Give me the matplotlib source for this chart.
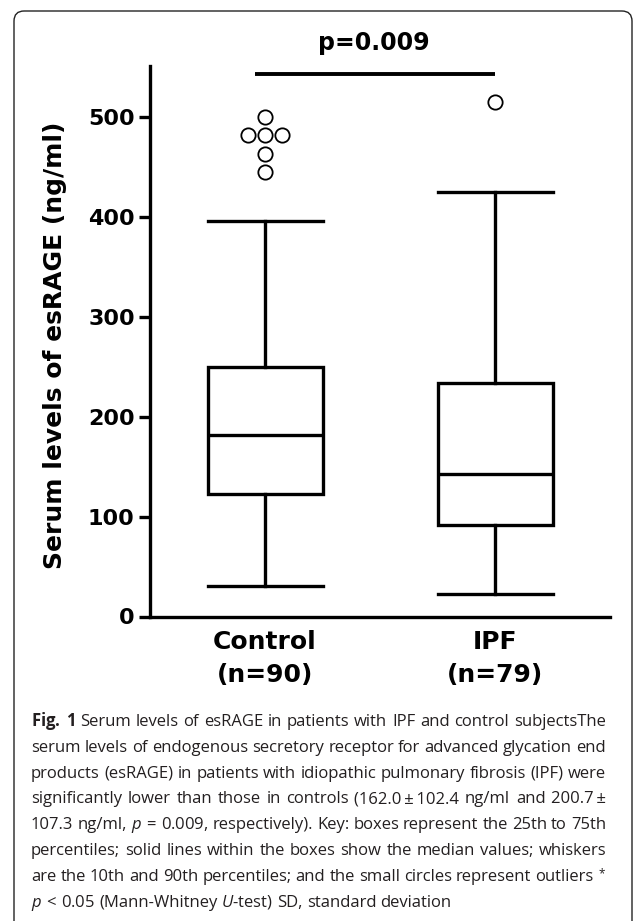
import numpy as np
import matplotlib
matplotlib.use("Agg")
import matplotlib.pyplot as plt
from matplotlib.patches import FancyBboxPatch

# box statistics (ng/ml)
groups = ["Control", "IPF"]
group_n = [90, 79]
q1 = [123, 92]
median = [182, 143]
q3 = [250, 234]
whisker_lo = [31, 23]
whisker_hi = [396, 425]

# outliers, with their horizontal jitter slot (in marker widths)
ctrl_outliers = [500, 482, 482, 482, 463, 445]
ctrl_slots = [0, -1, 0, 1, 0, 0]
ipf_outliers = [515]
ipf_slots = [0]

p_text = "p=0.009"
sig_bar_y = 543

caption_lines = [
    r"$\mathbf{Fig.\;1}$ Serum levels of esRAGE in patients with IPF and control subjectsThe",
    "serum levels of endogenous secretory receptor for advanced glycation end",
    "products (esRAGE) in patients with idiopathic pulmonary fibrosis (IPF) were",
    "significantly lower than those in controls (162.0\u2009±\u2009102.4 ng/ml and 200.7\u2009±",
    r"107.3 ng/ml, $\mathit{p}\,=\,$0.009, respectively). Key: boxes represent the 25th to 75th",
    "percentiles; solid lines within the boxes show the median values; whiskers",
    r"are the 10th and 90th percentiles; and the small circles represent outliers $^{*}$",
    r"$\mathit{p}\,<\,$0.05 (Mann-Whitney $\mathit{U}$-test) SD, standard deviation",
]

W, H = 633, 921
plt.rcParams["font.family"] = ["DejaVu Sans"]
plt.rcParams["mathtext.fontset"] = "custom"
plt.rcParams["mathtext.rm"] = "Open Sans"
plt.rcParams["mathtext.it"] = "Open Sans:italic"
plt.rcParams["mathtext.bf"] = "Open Sans:bold"

fig = plt.figure(figsize=(W / 100, H / 100), dpi=100)

# rounded frame around the whole panel
frame = FancyBboxPatch((14 / W, 1 - 960 / H), (632 - 14) / W, (960 - 11) / H,
                       boxstyle="round,pad=0,rounding_size=0.016",
                       transform=fig.transFigure, fill=False,
                       edgecolor="#222222", linewidth=1.0, mutation_aspect=W / H)
fig.patches.append(frame)

ax = fig.add_axes([150 / W, 1 - 616.5 / H, 460 / W, (616.5 - 65.7) / H])

pos = np.arange(1, len(groups) + 1)
stats = []
for i in range(len(groups)):
    stats.append(dict(med=median[i], q1=q1[i], q3=q3[i],
                      whislo=whisker_lo[i], whishi=whisker_hi[i], fliers=[]))

lw = 2.4
ax.bxp(stats, positions=pos, widths=0.5, capwidths=0.5, showfliers=False,
       patch_artist=True,
       boxprops=dict(facecolor="white", edgecolor="black", linewidth=lw),
       medianprops=dict(color="black", linewidth=lw),
       whiskerprops=dict(color="black", linewidth=lw),
       capprops=dict(color="black", linewidth=lw))

slot_w = 0.072
ax.plot(pos[0] + np.array(ctrl_slots) * slot_w, ctrl_outliers, "o", ms=10.3,
        mfc="white", mec="black", mew=1.3, clip_on=False, zorder=5)
ax.plot(pos[1] + np.array(ipf_slots) * slot_w, ipf_outliers, "o", ms=10.3,
        mfc="white", mec="black", mew=1.3, clip_on=False, zorder=5)

# significance bar
ax.plot([0.955, 2.0], [sig_bar_y, sig_bar_y], color="black", lw=2.8,
        solid_capstyle="butt", clip_on=False)
ax.text(1.474, 567, p_text, ha="center", va="baseline", fontsize=17,
        fontweight="bold")

ax.set_xlim(0.5, 2.5)
ax.set_ylim(0, 551)
ax.set_yticks(range(0, 501, 100))
ax.set_xticks(pos)
ax.set_xticklabels([f"{g}\n(n={n})" for g, n in zip(groups, group_n)],
                   fontsize=18, fontweight="bold", linespacing=1.45)
for lab in ax.get_yticklabels():
    lab.set_fontweight("bold")
ax.tick_params(axis="y", length=8, width=lw, labelsize=16, pad=3)
ax.tick_params(axis="x", length=0, pad=10)
for s in ["top", "right"]:
    ax.spines[s].set_visible(False)
for s in ["left", "bottom"]:
    ax.spines[s].set_linewidth(lw)
ax.set_ylabel("Serum levels of esRAGE (ng/ml)", fontsize=18, fontweight="bold")
ax.yaxis.set_label_coords(-0.181, 0.493)

# justified caption block
cap_left, cap_right = 31, 606
cap_y0, cap_dy = 726, 25.8
cap_style = dict(fontsize=12, family="Open Sans", color="#231f20",
                 va="baseline", ha="left")
renderer = fig.canvas.get_renderer()
for i, line in enumerate(caption_lines):
    y = 1 - (cap_y0 + i * cap_dy) / H
    words = line.split(" ")
    texts = [fig.text(0, y, w, **cap_style) for w in words]
    widths = [t.get_window_extent(renderer).width for t in texts]
    if i < len(caption_lines) - 1 and len(words) > 1:
        gap = (cap_right - cap_left - sum(widths)) / (len(words) - 1)
    else:
        gap = 4.0
    x = cap_left
    for t, w in zip(texts, widths):
        t.set_x(x / W)
        x += w + gap

fig.savefig("out.png", dpi=100)
